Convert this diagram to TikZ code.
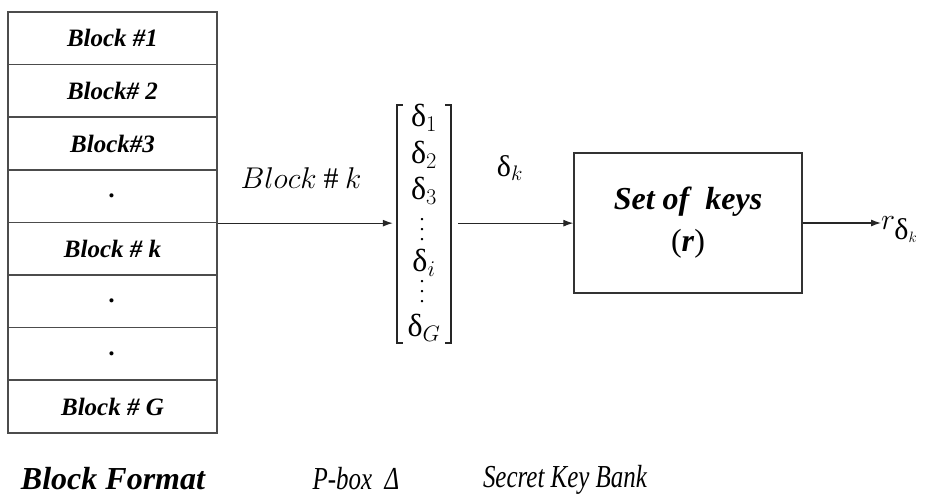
\documentclass[tikz,border=0pt]{standalone}
\usepackage{fix-cm}
\usepackage{amsmath}
\usepackage{fontspec}
\setmainfont{Liberation Serif}
\newfontfamily\condserif[FakeStretch=0.78]{Liberation Serif}
\usetikzlibrary{arrows.meta}
\newcommand{\ud}{\mbox{\fontspec{Liberation Serif}δ}}
\newcommand{\mydots}{\smash{\vbox{\fontsize{20}{20}\selectfont\baselineskip=10pt\lineskiplimit=-20pt\hbox{.}\hbox{.}\hbox{.}}}}
\begin{document}
\begin{tikzpicture}[x=1pt,y=-1pt,
  blk/.style={draw=black!70, line width=1.5pt, minimum width=209pt, minimum height=52.6pt, inner sep=0pt,
     font=\fontsize{25}{29}\selectfont\bfseries\itshape},
  arr/.style={line width=1.2pt, draw=black!85, -{Latex[length=10pt,width=7pt]}},
  lbl/.style={inner sep=0pt},
  delta/.style={inner sep=0pt, font=\fontsize{32}{36}\selectfont},
  brk/.style={line width=1.8pt, draw=black!85},
  bottomcap/.style={inner sep=0pt, anchor=base},
  keybox/.style={draw=black!80, line width=1.3pt, minimum width=228pt, minimum height=140pt, align=center,
     font=\fontsize{32}{40}\selectfont\bfseries\itshape}
]
\useasboundingbox (0,0) rectangle (932,495);
\foreach \i/\t in {1/Block \#1, 2/Block\# 2, 3/Block\#3, 4/., 5/Block \# k, 6/., 7/., 8/Block \# G}{
  \node[blk] (r\i) at (112.5, {12+52.6*(\i-0.5)}) {\t};
}
% P-box
\node[minimum width=54pt, minimum height=238pt, inner sep=0pt] (pbox) at (424,224) {};
\draw[brk] ([xshift=6pt]pbox.north west) -- (pbox.north west) -- (pbox.south west) -- ([xshift=6pt]pbox.south west);
\draw[brk] ([xshift=-6pt]pbox.north east) -- (pbox.north east) -- (pbox.south east) -- ([xshift=-6pt]pbox.south east);
\node[delta] (d1) at (424,118) {$\ud_1$};
\node[delta] (d2) at (424,155) {$\ud_2$};
\node[delta] (d3) at (424,191) {$\ud_3$};
\node[inner sep=0pt] (v1) at (422,240) {\mydots};
\node[delta] (di) at (424,263) {$\ud_i$};
\node[inner sep=0pt] (v2) at (422,302) {\mydots};
\node[delta] (dg) at (424,328) {$\ud_G$};
% key box
\node[keybox] (keys) at (688,223) {Set of\ \ keys\\[2pt]\mdseries\upshape(\textbf{\textit{r}})};
% labels
\node[lbl, font=\fontsize{30}{34}\selectfont] (lk) at (301,178) {$Block \mathbin{\#} k$};
\node[lbl, font=\fontsize{30}{34}\selectfont] (dk) at (510,168) {$\ud_k$};
\node[lbl, anchor=base west, font=\fontsize{30}{34}\selectfont] (rout) at (881,229) {$r_{\ud_k}$};
% connectors
\draw[arr, shorten >=4pt] (r4.south east) -- (r4.south east -| pbox.west);
\draw[arr] ([xshift=7pt]pbox.east |- r4.south east) coordinate (pe) -- (pe -| keys.west);
\draw[arr] (keys.east) -- (keys.east -| rout.west);
% captions
\node[bottomcap, font=\fontsize{32}{36}\selectfont\bfseries\itshape] (c1) at (113,489) {Block Format};
\node[bottomcap, font=\fontsize{32}{36}\selectfont\condserif\itshape] (c2) at (356,489) {P-box\ \ Δ};
\node[bottomcap, font=\fontsize{32}{36}\selectfont\condserif\itshape] (c3) at (565,487) {Secret Key Bank};
\end{tikzpicture}
\end{document}
